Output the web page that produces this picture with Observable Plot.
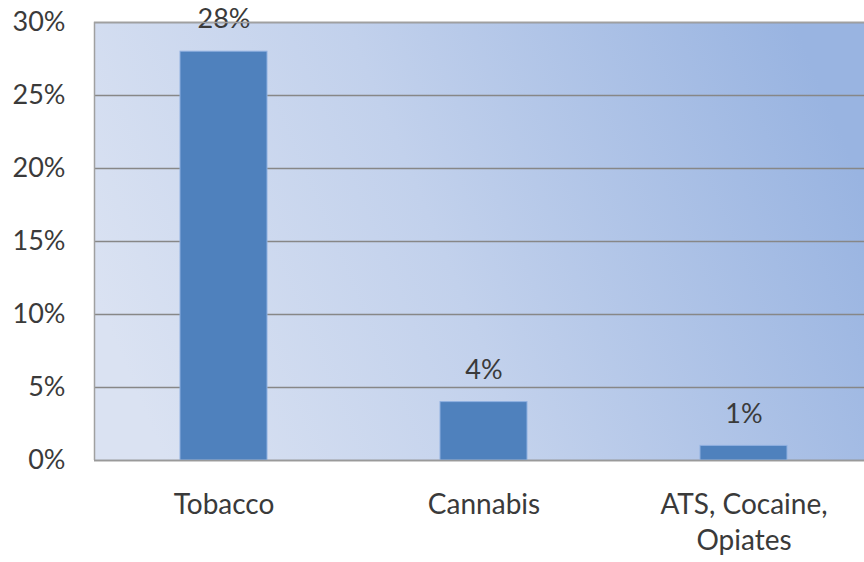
<!DOCTYPE html>
<html>
<head>
<meta charset="utf-8">
<script src="https://cdn.jsdelivr.net/npm/d3@7"></script>
<script src="https://cdn.jsdelivr.net/npm/@observablehq/plot@0.6"></script>
<style>
  html, body { margin: 0; padding: 0; background: #fff; }
  #chart svg { display: block; }
</style>
</head>
<body>
<div id="chart"></div>
<script>
const categories = ["Tobacco", "Cannabis", "ATS, Cocaine, Opiates"];
const categoryLabels = ["Tobacco", "Cannabis", "ATS, Cocaine,\nOpiates"];
const values = [0.28, 0.04, 0.01];
const valueLabels = ["28%", "4%", "1%"];
const yTicks = [0, 0.05, 0.10, 0.15, 0.20, 0.25, 0.30];

const data = categories.map((c, i) => ({category: c, value: values[i], label: valueLabels[i]}));
const labelOf = new Map(categories.map((c, i) => [c, categoryLabels[i]]));

const font = "Lato, 'Open Sans', sans-serif";
const textColor = "#3a3a3a";

const plot = Plot.plot({
  width: 864,
  height: 562,
  marginLeft: 94,
  marginTop: 22,
  marginBottom: 102,
  marginRight: 0,
  style: {fontFamily: font, background: "#fff", overflow: "hidden"},
  x: {domain: categories, range: [94, 874], paddingInner: 0.665, paddingOuter: 0.3325, label: null},
  y: {domain: [0, 0.30], label: null},
  marks: [
    Plot.frame({fill: "url(#bggrad)", stroke: null}),
    Plot.gridY(yTicks, {stroke: "#878787", strokeOpacity: 1, strokeWidth: 1.5}),
    Plot.barY(data, {x: "category", y: "value", fill: "#4f81bd", stroke: "#8fb0e0", strokeWidth: 1}),
    Plot.text(data, {x: "category", y: "value", text: "label", dy: -32, fontSize: 27, fill: textColor, fontFamily: font}),
    Plot.ruleY([0], {stroke: "#9a9a9a", strokeWidth: 1.5}),
    Plot.axisY(yTicks, {tickSize: 0, tickPadding: 29, tickFormat: d => Math.round(d * 100) + "%", fontSize: 27, fill: textColor, label: null}),
    Plot.axisX({tickSize: 0, tickPadding: 28, tickFormat: d => labelOf.get(d), fontSize: 28, fill: textColor, lineHeight: 1.29, lineAnchor: "top", label: null})
  ]
});

// gradient background
const svg = d3.select(plot);
const defs = svg.insert("defs", ":first-child");
const g = defs.append("linearGradient").attr("id", "bggrad")
  .attr("x1", "0%").attr("y1", "62%").attr("x2", "100%").attr("y2", "38%");
g.append("stop").attr("offset", "0%").attr("stop-color", "#dae2f2");
g.append("stop").attr("offset", "45%").attr("stop-color", "#c2d1ec");
g.append("stop").attr("offset", "100%").attr("stop-color", "#99b4e1");

// left/top border of plot area
svg.append("path")
  .attr("d", "M94.5,460 V22.5 H864")
  .attr("fill", "none").attr("stroke", "#a0a0a0").attr("stroke-width", 1.5);

document.getElementById("chart").appendChild(plot);
</script>
</body>
</html>
